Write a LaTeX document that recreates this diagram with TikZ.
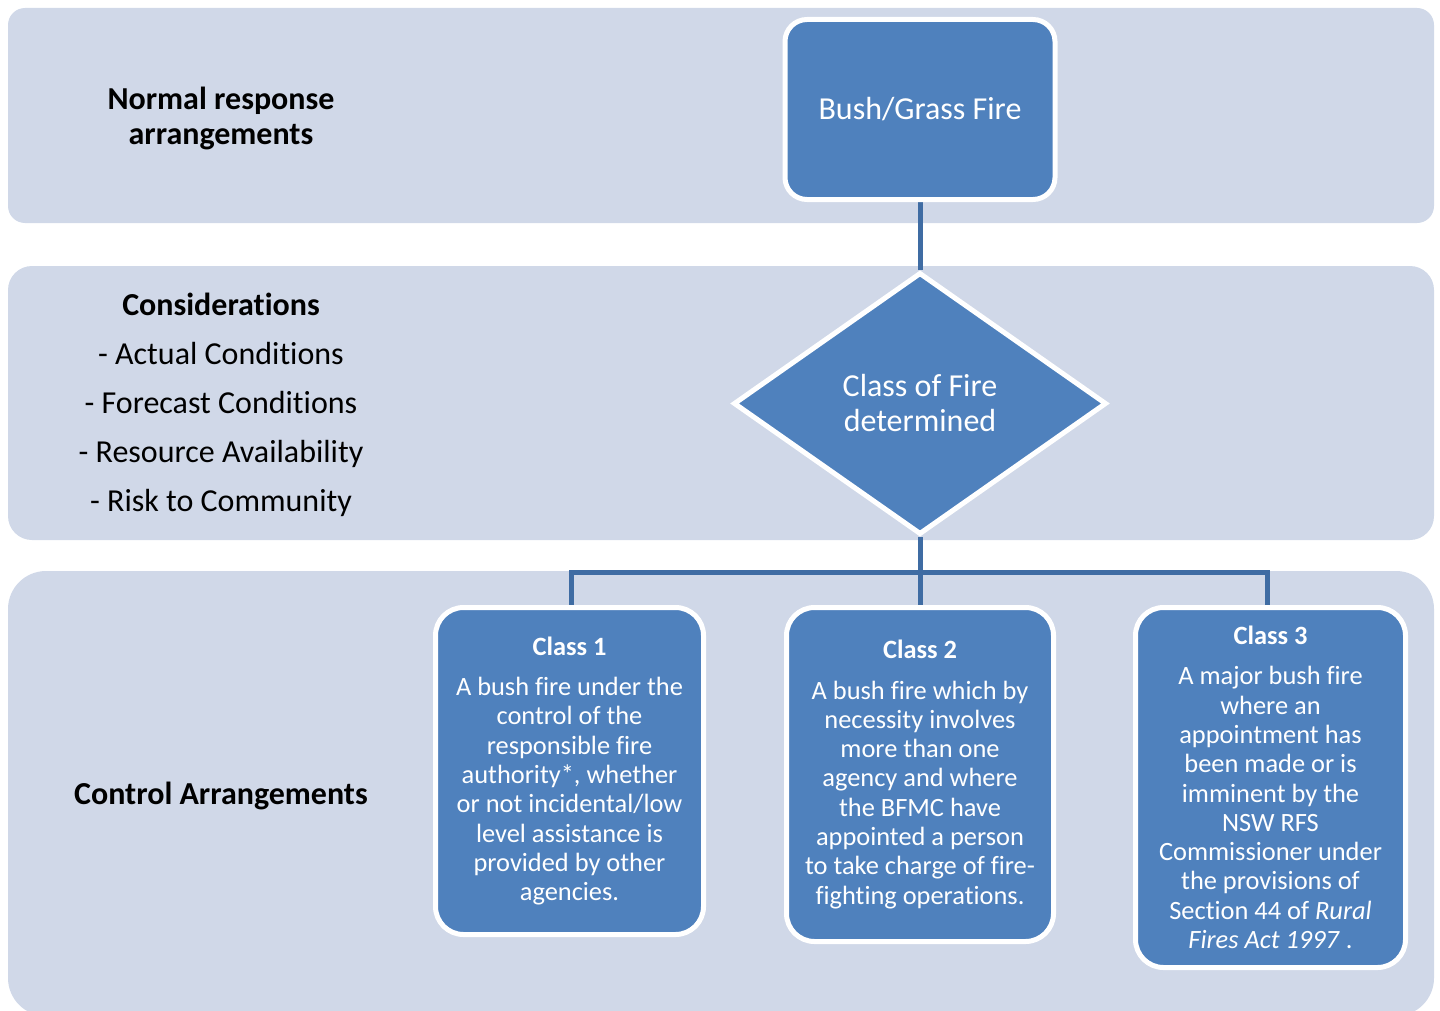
\documentclass[tikz,border=0pt]{standalone}
\usepackage{fontspec}
\setmainfont{Carlito}[Ligatures=NoCommon]
\usetikzlibrary{shapes.geometric}
\pgfdeclarelayer{bg}\pgfdeclarelayer{mid}\pgfsetlayers{bg,mid,main}
\definecolor{band}{HTML}{D0D8E8}
\definecolor{boxblue}{HTML}{4F81BD}
\definecolor{connblue}{HTML}{3F6CA3}
\begin{document}
\begin{tikzpicture}[x=0.5pt,y=-0.5pt,
  bluebox/.style={draw=white, line width=2.5pt, fill=boxblue, text=white, align=center, inner sep=0pt},
  classbox/.style={bluebox, rounded corners=14pt, font=\fontsize{13.2}{14.65}\selectfont},
  conn/.style={draw=connblue, line width=2.5pt},
  sidetext/.style={align=center, text=black}]
\useasboundingbox (0,0) rectangle (1440,1011);
\begin{pgfonlayer}{bg}
\fill[band, rounded corners=8.5pt] (8,8) rectangle (1434,223);
\fill[band, rounded corners=12pt] (8,266) rectangle (1434,540);
\fill[band, rounded corners=19pt] (8,571) rectangle (1434,1016);
\end{pgfonlayer}

\node[sidetext, font=\fontsize{16}{17.5}\selectfont\bfseries] (nra) at (221,118) {Normal response\\arrangements};
\node[sidetext, font=\fontsize{16}{24.5}\selectfont] (cons) at (221,405) {\textbf{Considerations}\\- Actual Conditions\\- Forecast Conditions\\- Resource Availability\\- Risk to Community};
\node[sidetext, font=\fontsize{16}{17.5}\selectfont\bfseries] (ctrl) at (221,795.5) {Control Arrangements};

\node[bluebox, rounded corners=11pt, minimum width=135pt, minimum height=90pt, font=\fontsize{16}{19.5}\selectfont] (fire) at (920,109.5) {Bush/Grass Fire};

\node[bluebox, diamond, minimum width=186.5pt, minimum height=131pt, font=\fontsize{16}{17.5}\selectfont] (cls) at (920,403.5) {Class of Fire\\determined};

\node[classbox, minimum width=134pt, minimum height=163.5pt] (c1) at (569.5,771) {\textbf{Class 1}\\[5.4pt]A bush fire under the\\control of the\\responsible fire\\authority*, whether\\or not incidental/low\\level assistance is\\provided by other\\agencies.};
\node[classbox, minimum width=133.5pt, minimum height=167pt] (c2) at (920,774.5) {\textbf{Class 2}\\[5.4pt]A bush fire which by\\necessity involves\\more than one\\agency and where\\the BFMC have\\appointed a person\\to take charge of fire-\\fighting operations.};
\node[classbox, minimum width=135pt, minimum height=180pt] (c3) at (1270.5,787.5) {\textbf{Class 3}\\[5.4pt]A major bush fire\\where an\\appointment has\\been made or is\\imminent by the\\NSW RFS\\Commissioner under\\the provisions of\\Section 44 of \textit{Rural}\\\textit{Fires Act 1997} .};

\coordinate (j) at (920,572);
\begin{pgfonlayer}{mid}
\draw[conn] (fire.south) -- (cls.north);
\draw[conn] (cls.south) -- (j);
\draw[conn] (c1.north -| 571,0) |- (j) -| (c3.north -| 1267,0);
\draw[conn] (j) -- (c2.north);
\end{pgfonlayer}
\end{tikzpicture}
\end{document}
